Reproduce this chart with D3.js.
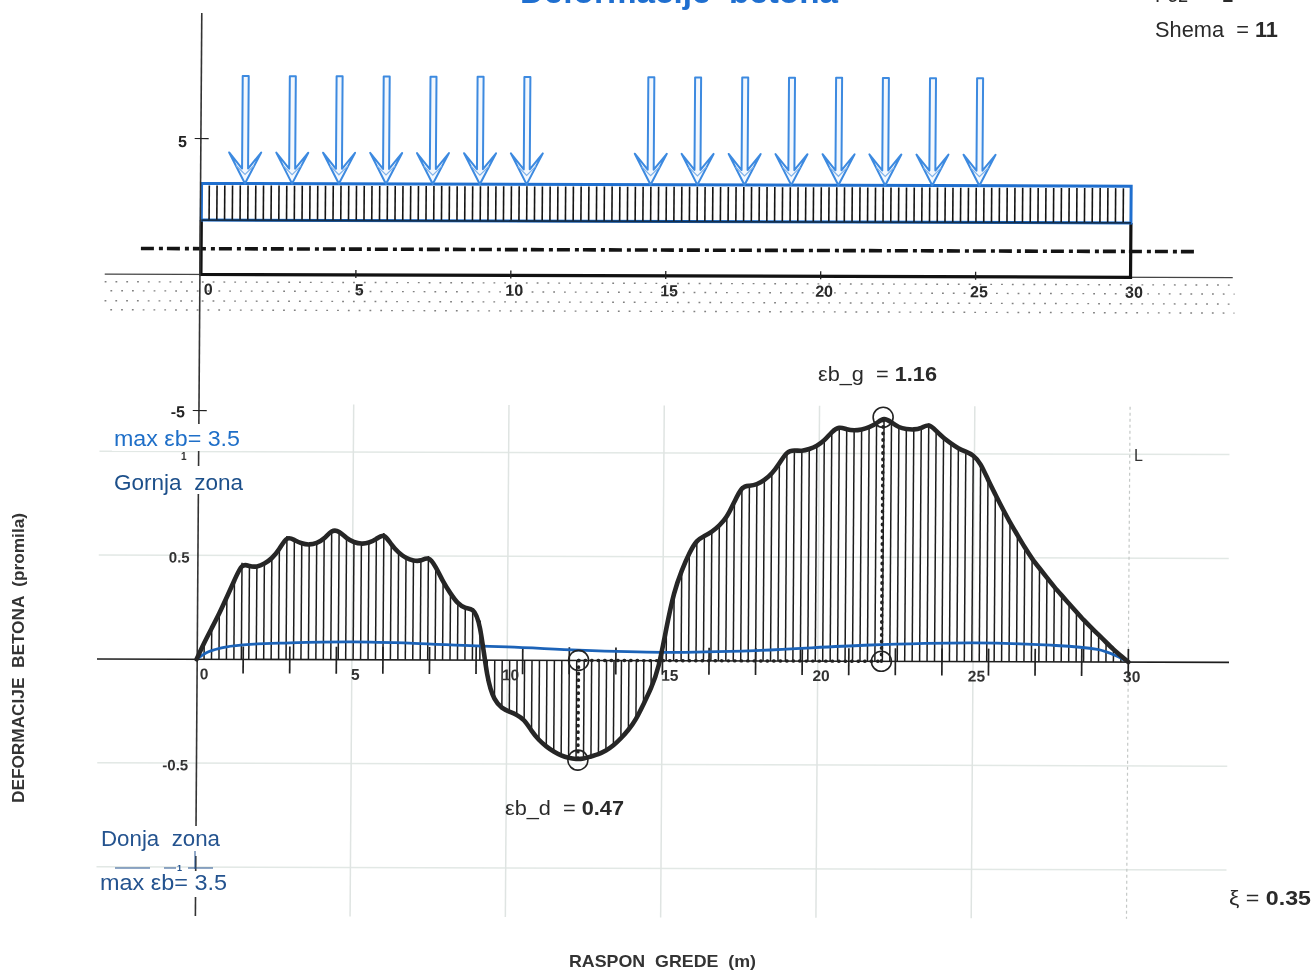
<!DOCTYPE html>
<html lang="en"><head><meta charset="UTF-8">
<script src="https://d3js.org/d3.v7.min.js"></script>
<style>
  html, body { margin: 0; padding: 0; background: #fff; overflow: hidden; }
  svg { display: block; filter: blur(0.45px); }
  text { font-family: "Liberation Sans", Arial, sans-serif; }
</style>
</head>
<body>
<div id="chart"></div>
<script>
// strain along the span, one reading per hatch line (0.24 m apart)
const strain = [
  0, 0.08, 0.15, 0.22, 0.30, 0.38, 0.465, 0.447, 0.445, 0.46, 0.485, 0.53, 0.595, 0.575, 0.558, 0.552,
  0.56, 0.58, 0.625, 0.62, 0.583, 0.565, 0.557, 0.562, 0.58, 0.61, 0.555, 0.515, 0.49, 0.477, 0.475, 0.50,
  0.45, 0.375, 0.32, 0.27, 0.248, 0.25, 0.19, -0.10, -0.195, -0.232, -0.248, -0.262, -0.285, -0.34, -0.385, -0.415,
  -0.44, -0.458, -0.47, -0.476, -0.474, -0.462, -0.452, -0.435, -0.41, -0.375, -0.335, -0.285, -0.21, -0.135, -0.04, 0.16,
  0.335, 0.435, 0.52, 0.582, 0.60, 0.62, 0.65, 0.69, 0.765, 0.842, 0.842, 0.848, 0.87, 0.90, 0.95, 1.01,
  1.015, 1.01, 1.02, 1.035, 1.06, 1.105, 1.13, 1.115, 1.11, 1.115, 1.125, 1.145, 1.175, 1.15, 1.125, 1.118,
  1.115, 1.122, 1.145, 1.11, 1.075, 1.05, 1.025, 1.01, 0.995, 0.955, 0.875, 0.805, 0.735, 0.67, 0.61, 0.55,
  0.495, 0.45, 0.405, 0.36, 0.32, 0.28, 0.24, 0.20, 0.165, 0.13, 0.095, 0.06, 0.03, 0
];
const hatchStep = 0.24;

// thin blue line
const blueX = [0, 0.3, 0.8, 1.5, 3, 5, 7, 9, 10, 12.3, 15, 18, 21.5, 25, 27.5, 29, 29.6, 30];
const blueY = [0, 0.03, 0.055, 0.07, 0.08, 0.086, 0.08, 0.068, 0.064, 0.049, 0.04, 0.05, 0.077, 0.09, 0.08, 0.06, 0.03, 0];

// load arrows on the beam
const loadX = [1.4, 2.92, 4.43, 5.95, 7.46, 8.98, 10.49, 14.49, 16, 17.52, 19.03, 20.55, 22.06, 23.58, 25.1];
const loadTop = 7.3, beamTop = 3.35, beamBottom = 2, centreLine = 0.95;
const beamHatchStep = 0.25;

const spanTicks = [0, 5, 10, 15, 20, 25, 30];
const gridX = [5, 10, 15, 20, 25];
const gridY = [1, 0.5, -0.5, -1];
const lowerTickLabels = [0.5, -0.5];
const supportTicks = d3.range(1, 21).map(k => k * 1.5);
const upperYTicks = [5, -5];

const minPoint = [12.3, -0.48], maxPoint = [22.05, 1.165];

const width = 1315, height = 971;
const xLow = d3.scaleLinear().domain([0, 30]).range([196.6, 1128.3]);
const xTop = d3.scaleLinear().domain([0, 30]).range([198.2, 1127.8]);
const yLow = d3.scaleLinear().domain([1, -1]).range([451.5, 867]);
const yTop = d3.scaleLinear().domain([0, 5]).range([274.5, 138.5]);

const svg = d3.select("#chart").append("svg").attr("width", width).attr("height", height);
svg.append("rect").attr("width", width).attr("height", height).attr("fill", "#fff");

// the scan is slightly sheared, axes are not quite square
const plot = svg.append("g").attr("transform", "matrix(1,0.003,-0.0071,1,4.68,-0.59)");

// ---- upper drawing ----
// soil dots
[282, 291, 301, 310].forEach((y, i) => {
  plot.append("line").attr("x1", 102).attr("x2", 1232).attr("y1", y).attr("y2", y)
    .attr("stroke", "#808080").attr("stroke-width", 1.4)
    .attr("stroke-dasharray", "1.8 9").attr("stroke-dashoffset", i % 2 ? 5 : 0);
});
plot.append("line").attr("x1", 102).attr("x2", 1230).attr("y1", yTop(0)).attr("y2", yTop(0))
  .attr("stroke", "#444").attr("stroke-width", 1.2);

// beam outline below the blue part
plot.append("path")
  .attr("d", `M${xTop(0)},${yTop(beamBottom)}V${yTop(0)}H${xTop(30)}V${yTop(beamBottom)}`)
  .attr("fill", "none").attr("stroke", "#111").attr("stroke-width", 3.2);
plot.append("rect").attr("x", xTop(0)).attr("y", yTop(beamTop))
  .attr("width", xTop(30) - xTop(0)).attr("height", yTop(beamBottom) - yTop(beamTop))
  .attr("fill", "none").attr("stroke", "#1f6fcf").attr("stroke-width", 3);

// beam hatch
plot.append("g").selectAll("line").data(d3.range(0.25, 30, beamHatchStep)).join("line")
  .attr("x1", d => xTop(d)).attr("x2", d => xTop(d))
  .attr("y1", yTop(beamTop) + 2).attr("y2", yTop(beamBottom))
  .attr("stroke", "#141414").attr("stroke-width", 1.6);
plot.append("line").attr("x1", xTop(0)).attr("x2", xTop(30)).attr("y1", yTop(beamBottom)).attr("y2", yTop(beamBottom))
  .attr("stroke", "#14304f").attr("stroke-width", 1.8);

// centre line
plot.append("line").attr("x1", 138).attr("x2", 1195).attr("y1", yTop(centreLine)).attr("y2", yTop(centreLine))
  .attr("stroke", "#141414").attr("stroke-width", 3.6).attr("stroke-dasharray", "13 5 4 4");

// arrows
const arrows = plot.append("g").selectAll("g").data(loadX).join("g")
  .attr("transform", d => `translate(${xTop(d)},0)`);
const tail = yTop(loadTop), tip = yTop(beamTop);
arrows.append("path")
  .attr("d", `M-3,${tail}H3V${tip - 15}L16,${tip - 31}L0,${tip}L-16,${tip - 31}L-3,${tip - 15}Z`)
  .attr("fill", "#f4f8fd").attr("stroke", "#3d8ae0").attr("stroke-width", 2).attr("stroke-linejoin", "round");
arrows.append("path").attr("d", `M-9,${tip - 18}L0,${tip - 9}L9,${tip - 18}`)
  .attr("fill", "none").attr("stroke", "#7fb2ea").attr("stroke-width", 1.2);

// span ticks and labels, upper
const topAxis = plot.append("g").attr("transform", `translate(0,${yTop(0)})`)
  .call(d3.axisBottom(xTop).tickValues(spanTicks).tickSize(0).tickPadding(9).tickFormat(d3.format("d")));
topAxis.select(".domain").remove();
topAxis.selectAll("text").attr("dx", d => d === 0 ? 7 : 3).attr("fill", "#2a2a2a")
  .style("font-size", "16px").style("font-weight", "bold").style("font-family", "Liberation Sans");
plot.append("g").selectAll("line").data(spanTicks.slice(1, -1)).join("line")
  .attr("x1", d => xTop(d)).attr("x2", d => xTop(d)).attr("y1", yTop(0) - 5).attr("y2", yTop(0) + 3)
  .attr("stroke", "#222").attr("stroke-width", 1.3);

// ---- lower chart grid ----
plot.append("g").selectAll("line").data(gridY).join("line")
  .attr("x1", 98).attr("x2", 1228).attr("y1", d => yLow(d)).attr("y2", d => yLow(d))
  .attr("stroke", "#e2e8e5").attr("stroke-width", 1.5);
plot.append("g").selectAll("line").data(gridX).join("line")
  .attr("x1", d => xLow(d)).attr("x2", d => xLow(d)).attr("y1", 404).attr("y2", 916)
  .attr("stroke", "#dfe4e2").attr("stroke-width", 1.5);
plot.append("line").attr("x1", xLow(30)).attr("x2", xLow(30)).attr("y1", 404).attr("y2", 916)
  .attr("stroke", "#c4c8c6").attr("stroke-width", 1.2).attr("stroke-dasharray", "3 3");

// main vertical axis, runs through both drawings
plot.append("line").attr("x1", 197.2).attr("x2", 197.2).attr("y1", 13).attr("y2", 916)
  .attr("stroke", "#333").attr("stroke-width", 1.6);

// y ticks shared with the upper scale
const upAxis = plot.append("g").attr("transform", "translate(197.2,0)")
  .call(d3.axisLeft(yTop).tickValues(upperYTicks).tickSize(0).tickPadding(14).tickFormat(d => d < 0 ? "-" + Math.abs(d) : d));
upAxis.select(".domain").remove();
upAxis.selectAll("text").attr("fill", "#222").attr("dy", d => d > 0 ? "0.5em" : "0.4em")
  .style("font-size", "16px").style("font-weight", "bold").style("font-family", "Liberation Sans");
plot.append("g").selectAll("line").data(upperYTicks).join("line")
  .attr("x1", 191).attr("x2", 205).attr("y1", d => yTop(d)).attr("y2", d => yTop(d))
  .attr("stroke", "#222").attr("stroke-width", 1.2);

// y labels of the lower chart
const lowAxis = plot.append("g").attr("transform", "translate(197,0)")
  .call(d3.axisLeft(yLow).tickValues(lowerTickLabels).tickSize(0).tickPadding(8).tickFormat(d3.format(".1f")));
lowAxis.select(".domain").remove();
lowAxis.selectAll("text").attr("fill", "#333").attr("dy", "0.45em").text(d => d < 0 ? "-" + Math.abs(d) : d)
  .style("font-size", "15px").style("font-weight", "bold").style("font-family", "Liberation Sans");

// ---- lower chart marks ----
const hatchData = strain.map((v, i) => [i * hatchStep, v]);
plot.append("g").selectAll("line").data(hatchData).join("line")
  .attr("x1", d => xLow(d[0])).attr("x2", d => xLow(d[0]))
  .attr("y1", yLow(0)).attr("y2", d => yLow(d[1]))
  .attr("stroke", "#1c1c1c").attr("stroke-width", 1.5);

plot.append("line").attr("x1", 97).attr("x2", 1229).attr("y1", yLow(0)).attr("y2", yLow(0))
  .attr("stroke", "#1e1e1e").attr("stroke-width", 1.6);

plot.append("g").selectAll("line").data(supportTicks).join("line")
  .attr("x1", d => xLow(d)).attr("x2", d => xLow(d)).attr("y1", yLow(0) - 13).attr("y2", yLow(0) + 14)
  .attr("stroke", "#222").attr("stroke-width", 1.7);

const lowDx = { 0: 7, 15: 7 };
const lowXAxis = plot.append("g").attr("transform", `translate(0,${yLow(0)})`)
  .call(d3.axisBottom(xLow).tickValues(spanTicks).tickSize(0).tickPadding(9).tickFormat(d3.format("d")));
lowXAxis.select(".domain").remove();
lowXAxis.selectAll("text").attr("dx", d => lowDx[d] || 3).attr("fill", "#333")
  .style("font-size", "15.5px").style("font-weight", "bold").style("font-family", "Liberation Sans");

// blue curve
const blueLine = d3.line().x((d, i) => xLow(blueX[i])).y(d => yLow(d)).curve(d3.curveMonotoneX);
plot.append("path").datum(blueY).attr("d", blueLine)
  .attr("fill", "none").attr("stroke", "#1c63b8").attr("stroke-width", 2.8);

// strain curve
const strainLine = d3.line().x(d => xLow(d[0])).y(d => yLow(d[1])).curve(d3.curveBasis);
plot.append("path").datum(hatchData).attr("d", strainLine)
  .attr("fill", "none").attr("stroke", "#262626").attr("stroke-width", 4.6)
  .attr("stroke-linejoin", "round").attr("stroke-linecap", "round");

// extreme markers
const dotted = (x1, y1, x2, y2) => plot.append("line")
  .attr("x1", x1).attr("x2", x2).attr("y1", y1).attr("y2", y2)
  .attr("stroke", "#222").attr("stroke-width", 3.4).attr("stroke-linecap", "round").attr("stroke-dasharray", "0.5 6");
dotted(xLow(minPoint[0]), yLow(0), xLow(maxPoint[0]), yLow(0));
dotted(xLow(minPoint[0]), yLow(0), xLow(minPoint[0]), yLow(minPoint[1]));
dotted(xLow(maxPoint[0]), yLow(0), xLow(maxPoint[0]), yLow(maxPoint[1]));
[[minPoint[0], 0], minPoint, [maxPoint[0], 0], maxPoint].forEach(p => {
  plot.append("circle").attr("cx", xLow(p[0])).attr("cy", yLow(p[1]) + (p === maxPoint ? -2 : 0)).attr("r", 10)
    .attr("fill", "none").attr("stroke", "#222").attr("stroke-width", 1.6);
});

// ---- texts, not sheared ----
function label(x, y, parts, size, color, len, anchor) {
  const t = svg.append("text").attr("x", x).attr("y", y).attr("font-size", size)
    .attr("fill", color).attr("text-anchor", anchor || "start").style("white-space", "pre");
  if (len) t.attr("textLength", len).attr("lengthAdjust", "spacingAndGlyphs");
  parts.forEach(p => t.append("tspan").attr("font-weight", p[1] ? "bold" : "normal").text(p[0]));
  return t;
}
function mask(x, y, w, h) {
  svg.append("rect").attr("x", x).attr("y", y).attr("width", w).attr("height", h).attr("fill", "#fff");
}

label(520, 3, [["Deformacije  betona", true]], 31, "#1f6fd0", 318);
label(1155, 2, [["Foz  =  ", false], ["1", true]], 22, "#2a2a2a", 78);
label(1155, 37, [["Shema  = ", false], ["11", true]], 22, "#2a2a2a", 123);
label(818, 381, [["εb_g  = ", false], ["1.16", true]], 21, "#2a2a2a", 119);
label(505, 815, [["εb_d  = ", false], ["0.47", true]], 21, "#2a2a2a", 119);
label(1229, 905, [["ξ = ", false], ["0.35", true]], 21, "#2a2a2a", 82);
label(1134, 461, [["L", false]], 16, "#333");

// the zone captions cover the axis in the scan
svg.append("text").attr("x", 181).attr("y", 460).attr("font-size", 10).attr("font-weight", "bold").attr("fill", "#333").text("1");
mask(112, 424, 130, 27);
mask(112, 466, 132, 28);
label(114, 446, [["max εb= 3.5", false]], 22, "#1f6fc8", 126);
label(114, 490, [["Gornja  zona", false]], 22.5, "#1c4f8a", 129);

mask(99, 826, 124, 30);
mask(99, 871, 130, 26);
label(101, 846, [["Donja  zona", false]], 22.5, "#24538f", 119);
label(100, 890, [["max εb= 3.5", false]], 22, "#24538f", 127);
// what is left of the -1 grid line between the captions
svg.append("path").attr("d", "M115,868H150M164,868H176M188,868H213M195,851V869")
  .attr("stroke", "#24538f").attr("stroke-width", 1).attr("fill", "none");
svg.append("text").attr("x", 177).attr("y", 871).attr("font-size", 9).attr("font-weight", "bold").attr("fill", "#24538f").text("1");

label(569, 967, [["RASPON  GREDE  (m)", true]], 17, "#333", 187);
svg.append("text").attr("transform", "translate(24,803) rotate(-90)")
  .attr("font-size", 16).attr("font-weight", "bold").attr("fill", "#333").style("white-space", "pre")
  .attr("textLength", 290).attr("lengthAdjust", "spacingAndGlyphs")
  .text("DEFORMACIJE  BETONA  (promila)");
</script>
</body>
</html>
